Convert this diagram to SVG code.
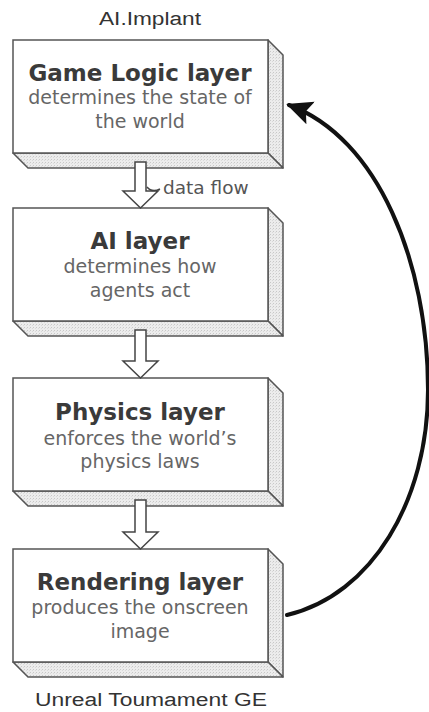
<svg xmlns="http://www.w3.org/2000/svg" width="429" height="712" viewBox="0 0 429 712">
<style>
.front{fill:#ffffff;stroke:#555;stroke-width:1.5}
.side{fill:url(#dots);stroke:#555;stroke-width:1.5;stroke-linejoin:round}
.title{font-family:"DejaVu Sans",Verdana,sans-serif;font-weight:bold;font-size:23px;fill:#3a3a3a;text-anchor:middle}
.sub{font-family:"DejaVu Sans",Verdana,sans-serif;font-size:19px;fill:#666;text-anchor:middle}
.lbl{font-family:"Liberation Sans",Arial,sans-serif;font-size:18px;fill:#333;text-anchor:middle}
.flow{fill:#fff;stroke:#444;stroke-width:1.5;stroke-linejoin:miter}
.note{font-family:"DejaVu Sans",Verdana,sans-serif;font-size:18.5px;fill:#555}
.loop{fill:none;stroke:#111;stroke-width:4;stroke-linecap:round}
</style>
<defs>
<pattern id="dots" width="3" height="3" patternUnits="userSpaceOnUse">
<rect width="3" height="3" fill="#ececec"/>
<rect x="0" y="0" width="1" height="1" fill="#c8c8c8"/>
<rect x="2" y="1" width="1" height="1" fill="#dadada"/>
</pattern>
<marker id="ah" markerWidth="28" markerHeight="28" refX="23" refY="14" orient="auto" markerUnits="userSpaceOnUse">
<path d="M0,2 L26,14 L0,26 L5,14 z" fill="#111"/>
</marker>
</defs>
<rect width="429" height="712" fill="#fff"/>
<text class="lbl" x="150" y="25" textLength="102" lengthAdjust="spacingAndGlyphs">AI.Implant</text>
<text class="lbl" x="151" y="706" textLength="232" lengthAdjust="spacingAndGlyphs">Unreal Toumament GE</text>

<g id="game-logic">
<polygon class="side" points="268,40 283,55 283,168 268,153"/>
<polygon class="side" points="13,153 268,153 283,168 28,168"/>
<rect class="front" x="13" y="40" width="255" height="113"/>
<text class="title" x="140" y="81">Game Logic layer</text>
<text class="sub" x="140" y="104">determines the state of</text>
<text class="sub" x="140" y="128">the world</text>
</g>
<g id="ai">
<polygon class="side" points="268,208 283,223 283,336 268,321"/>
<polygon class="side" points="13,321 268,321 283,336 28,336"/>
<rect class="front" x="13" y="208" width="255" height="113"/>
<text class="title" x="140" y="249">AI layer</text>
<text class="sub" x="140" y="273">determines how</text>
<text class="sub" x="140" y="297">agents act</text>
</g>
<g id="physics">
<polygon class="side" points="268,378 283,393 283,506 268,491"/>
<polygon class="side" points="13,491 268,491 283,506 28,506"/>
<rect class="front" x="13" y="378" width="255" height="113"/>
<text class="title" x="140" y="420">Physics layer</text>
<text class="sub" x="140" y="445">enforces the world’s</text>
<text class="sub" x="140" y="468">physics laws</text>
</g>
<g id="rendering">
<polygon class="side" points="268,549 283,564 283,677 268,662"/>
<polygon class="side" points="13,662 268,662 283,677 28,677"/>
<rect class="front" x="13" y="549" width="255" height="113"/>
<text class="title" x="140" y="590">Rendering layer</text>
<text class="sub" x="140" y="614">produces the onscreen</text>
<text class="sub" x="140" y="638">image</text>
</g>

<g id="connectors">
<polygon class="flow" points="135,162 146,162 146,191 158,191 140.5,208 123,191 135,191"/>
<path d="M147,187 q5,6 13,2" fill="none" stroke="#444" stroke-width="1.5"/>
<text class="note" x="163" y="194">data flow</text>
<polygon class="flow" points="135,330 146,330 146,361 158,361 140.5,378 123,361 135,361"/>
<polygon class="flow" points="135,500 146,500 146,532 158,532 140.5,549 123,532 135,532"/>
<path class="loop" d="M287,615 C372,595 428,500 428,390 C428,262 378,138 289,105" marker-end="url(#ah)"/>
</g>
</svg>
